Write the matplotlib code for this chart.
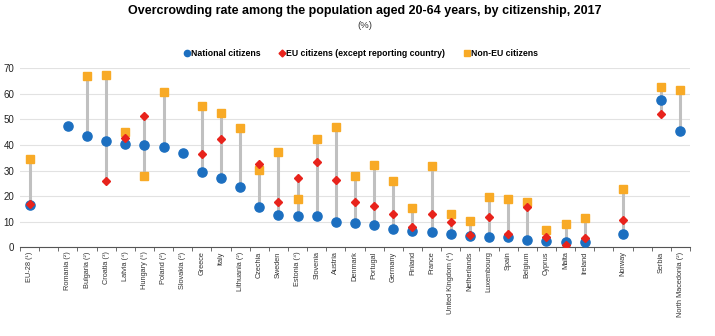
import numpy as np
import matplotlib
matplotlib.use("Agg")
import matplotlib.pyplot as plt
from matplotlib.lines import Line2D

plt.rcParams['font.family'] = ['Liberation Sans', 'DejaVu Sans']

nan = np.nan

countries = [
    "EU-28 (¹)",
    "Romania (²)", "Bulgaria (²)", "Croatia (³)", "Latvia (⁴)", "Hungary (⁵)",
    "Poland (²)", "Slovakia (²)", "Greece", "Italy", "Lithuania (²)", "Czechia",
    "Sweden", "Estonia (⁴)", "Slovenia", "Austria", "Denmark", "Portugal",
    "Germany", "Finland", "France", "United Kingdom (⁴)", "Netherlands",
    "Luxembourg", "Spain", "Belgium", "Cyprus", "Malta", "Ireland",
    "Norway",
    "Serbia", "North Macedonia (²)",
]

national = [
    16.5,
    47.6, 43.4, 41.4, 40.3, 39.9, 39.3, 37.0, 29.3, 27.0, 23.6, 15.6,
    12.5, 12.3, 12.1, 9.7, 9.6, 8.7, 7.0, 6.3, 6.1, 5.1, 4.4,
    4.1, 3.9, 3.0, 2.5, 2.2, 1.9,
    5.2,
    57.4, 45.5,
]

eu_citizens = [
    17.0,
    nan, nan, 25.8, 42.8, 51.5, nan, nan, 36.3, 42.4, nan, 32.7,
    17.9, 27.0, 33.2, 26.3, 17.6, 16.3, 13.2, 8.0, 13.2, 10.0, 4.7,
    11.8, 5.2, 15.8, 4.0, 0.9, 3.7,
    10.7,
    52.1, nan,
]

non_eu = [
    34.4,
    nan, 66.9, 67.3, 45.1, 28.0, 60.8, nan, 55.4, 52.4, 46.7, 30.3,
    37.1, 18.9, 42.4, 47.1, 28.0, 32.3, 26.1, 15.2, 31.6, 13.0, 10.1,
    19.8, 18.7, 17.7, 6.9, 9.3, 11.5,
    22.6,
    62.6, 61.6,
]

# an empty slot is left after each of these groups
gap_after = ["EU-28 (¹)", "Ireland", "Norway"]

positions = []
pos = 0
for name in countries:
    positions.append(pos)
    pos += 2 if name in gap_after else 1
positions = np.array(positions)

nat = np.array(national, dtype=float)
eu = np.array(eu_citizens, dtype=float)
neu = np.array(non_eu, dtype=float)
stack = np.vstack([nat, eu, neu])
lo = np.nanmin(stack, axis=0)
hi = np.nanmax(stack, axis=0)

blue = "#1c6fc0"
red = "#e8231c"
orange = "#f8aa26"

fig = plt.figure(figsize=(7.15, 3.36), dpi=100)
ax = fig.add_axes([0.028, 0.264, 0.937, 0.533])

ax.vlines(positions, lo, hi, color="#c0c0c0", lw=2.2, zorder=1)
ax.plot(positions, neu, ls="none", marker="s", ms=6.3, color=orange, zorder=2)
ax.plot(positions, nat, ls="none", marker="o", ms=6.6, color=blue, zorder=3)
ax.plot(positions, eu, ls="none", marker="D", ms=4.0, color=red, zorder=4)

ax.set_xlim(-0.5, pos - 0.5)
ax.set_ylim(0, 70)
ax.set_yticks(np.arange(0, 71, 10))
ax.yaxis.grid(True, color="#e2e2e2", lw=0.8)
ax.set_axisbelow(True)

ax.set_xticks(positions)
ax.set_xticklabels(countries, rotation=90, fontsize=5.3, color="#333333", va="top")
ax.tick_params(axis="x", length=0, pad=3)
ax.set_xticks(np.arange(-0.5, pos, 1), minor=True)
ax.tick_params(axis="x", which="minor", length=3, color="#555555", width=0.6)
ax.tick_params(axis="y", length=0, pad=4, labelsize=7, labelcolor="#222222")

for side in ("top", "right", "left"):
    ax.spines[side].set_visible(False)
ax.spines["bottom"].set_color("#555555")
ax.spines["bottom"].set_linewidth(0.8)

fig.text(0.51, 0.968, "Overcrowding rate among the population aged 20-64 years, by citizenship, 2017",
         ha="center", va="center", fontsize=9.0, fontweight="bold")
fig.text(0.51, 0.925, "(%)", ha="center", va="center", fontsize=6.8, color="#333333")

handles = [
    Line2D([], [], ls="none", marker="o", ms=4.5, color=blue),
    Line2D([], [], ls="none", marker="D", ms=3.5, color=red),
    Line2D([], [], ls="none", marker="s", ms=4.5, color=orange),
]
labels = ["National citizens", "EU citizens (except reporting country)", "Non-EU citizens"]
leg = fig.legend(handles, labels, loc="center", bbox_to_anchor=(0.505, 0.842), ncol=3,
                 frameon=False, handlelength=0.6, handletextpad=0.15, columnspacing=2.2,
                 prop={"size": 6.3, "weight": "bold"})

fig.savefig("out.png", dpi=100)
